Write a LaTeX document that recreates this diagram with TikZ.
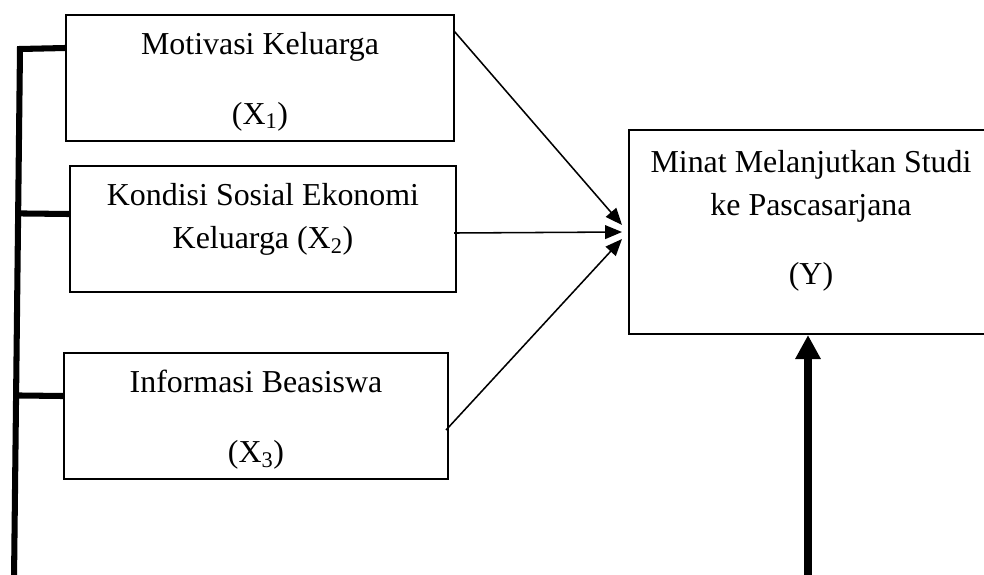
\documentclass[tikz,border=0pt]{standalone}
\usepackage{fontspec}
\setmainfont{Liberation Serif}
\usetikzlibrary{calc}
\usetikzlibrary{arrows.meta}

\begin{document}
\begin{tikzpicture}[x=0.025cm, y=-0.025cm,
  every node/.style={font=\fontsize{22.7}{30.6}\selectfont},
  varbox/.style={draw, rectangle, line width=1.4pt, align=center, minimum height=3.15cm},
  link/.style={line width=1.1pt, -{Triangle[length=0.42cm,width=0.34cm]}},
  mainlink/.style={line width=0.2cm, -{Triangle[length=0.6cm,width=0.6cm]}},
  bracket/.style={line width=4.3pt}]
\useasboundingbox (0,0) rectangle (984,574);

\node (x1) at (260,78) [varbox, minimum width=9.7cm, text depth=0cm] {Motivasi Keluarga\\[19.2pt](X\textsubscript{1})};
\node (x2) at (263,229) [varbox, minimum width=9.65cm, text depth=0.65cm] {Kondisi Sosial Ekonomi\\Keluarga (X\textsubscript{2})};
\node (x3) at (256,416) [varbox, minimum width=9.6cm, text depth=0cm] {Informasi Beasiswa\\[19.2pt](X\textsubscript{3})};

\node (y) at (811,232) [varbox, minimum width=9.1cm, minimum height=5.1cm, text depth=0.75cm] {Minat Melanjutkan Studi\\ke Pascasarjana\\[18.5pt](Y)};

% arrows into Y
\coordinate (tip1) at (622,225);
\coordinate (tip2) at (622,232);
\coordinate (tip3) at (622,239);
\draw [link] ($(x1.north east)+(-1,17)$) -- (tip1);
\draw [link] ($(x2.north east)+(-3,68)$) -- (tip2);
\draw [link] ($(x3.north east)+(-3,78)$) -- (tip3);

\coordinate (base) at (808,580);
\draw [mainlink] (base) -- (y.south -| base);

% bracket on the left
\coordinate (top) at (20,49);
\coordinate (bot) at (14,580);
\coordinate (j2) at ($(x2.north west)+(0,49)$);
\coordinate (j3) at ($(x3.north west)+(0,44)$);
\draw [bracket] ($(x1.north west)+(0,34)$) -- (top) -- (bot);
\draw [bracket] (j2) -- ($(top)!(j2)!(bot)$);
\draw [bracket] (j3) -- ($(top)!(j3)!(bot)$);

\end{tikzpicture}
\end{document}
